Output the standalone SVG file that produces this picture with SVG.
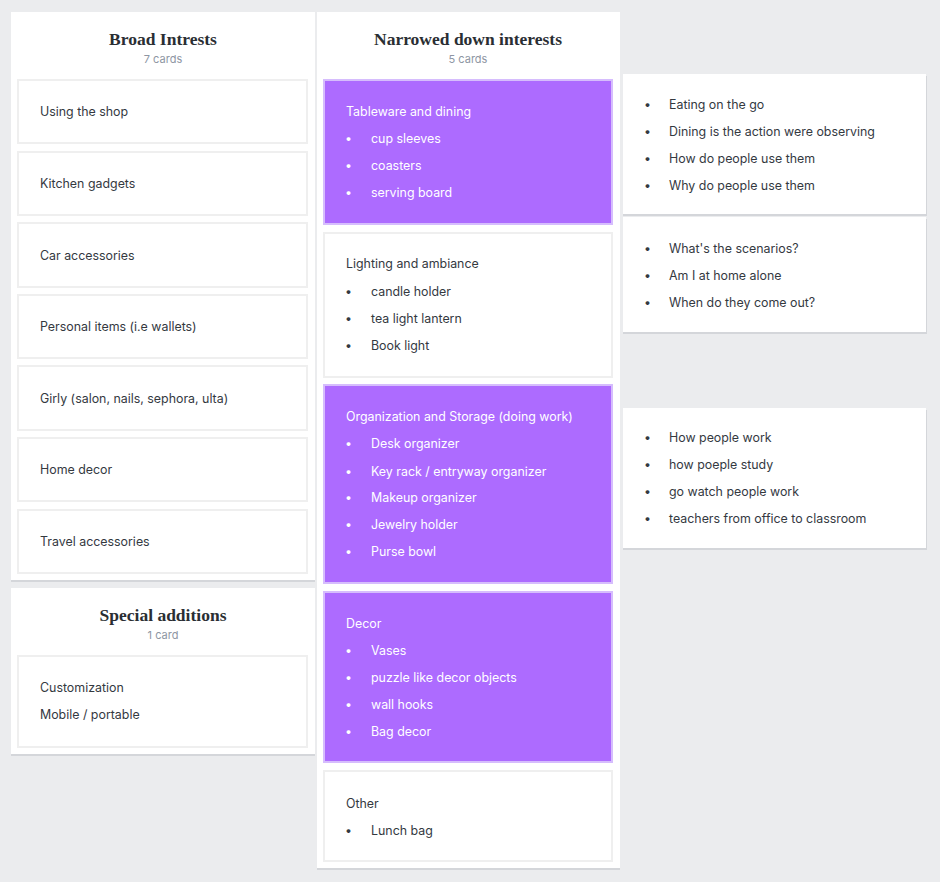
<svg xmlns="http://www.w3.org/2000/svg" width="940" height="882" viewBox="0 0 940 882">
<style>
.col{fill:#ffffff}
.sh{fill:#d4d6da}
.card{fill:#ffffff;stroke:#efefef;stroke-width:2}
.pcard{fill:#ad6bff;stroke:#d6bdfd;stroke-width:2}
.t{font-family:Inter,"Noto Sans","Liberation Sans",sans-serif;font-size:12.4px;fill:#34393f}
.w{fill:#ffffff}
.h{font-family:"Liberation Serif","DejaVu Serif",serif;font-weight:bold;font-size:17.5px;fill:#2a2e33;text-anchor:middle}
.sub{font-family:Inter,"Liberation Sans",sans-serif;font-size:11px;fill:#8e96a3;text-anchor:middle}
</style>
<rect x="0" y="0" width="940" height="882" fill="#ebecee"/>

<g id="col-broad">
<rect class="sh" x="11" y="14" width="304" height="568"/>
<rect class="col" x="11" y="12" width="304" height="568"/>
<text class="h" x="163" y="45">Broad Intrests</text>
<text class="sub" x="163" y="63">7 cards</text>
</g>
<g id="card-shop"><rect class="card" x="18" y="80" width="289" height="63"/><text class="t" x="40" y="116">Using the shop</text></g>
<g id="card-kitchen"><rect class="card" x="18" y="152" width="289" height="63"/><text class="t" x="40" y="188">Kitchen gadgets</text></g>
<g id="card-car"><rect class="card" x="18" y="223" width="289" height="64"/><text class="t" x="40" y="260">Car accessories</text></g>
<g id="card-personal"><rect class="card" x="18" y="295" width="289" height="63"/><text class="t" x="40" y="331">Personal items (i.e wallets)</text></g>
<g id="card-girly"><rect class="card" x="18" y="366" width="289" height="64"/><text class="t" x="40" y="403">Girly (salon, nails, sephora, ulta)</text></g>
<g id="card-home"><rect class="card" x="18" y="438" width="289" height="63"/><text class="t" x="40" y="474">Home decor</text></g>
<g id="card-travel"><rect class="card" x="18" y="510" width="289" height="63"/><text class="t" x="40" y="546">Travel accessories</text></g>

<g id="col-special">
<rect class="sh" x="11" y="590" width="304" height="166"/>
<rect class="col" x="11" y="588" width="304" height="166"/>
<text class="h" x="163" y="621">Special additions</text>
<text class="sub" x="163" y="639">1 card</text>
</g>
<g id="card-custom"><rect class="card" x="18" y="656" width="289" height="91"/><text class="t" x="40" y="692">Customization</text><text class="t" x="40" y="719">Mobile / portable</text></g>

<g id="col-narrow">
<rect class="sh" x="317" y="14" width="303" height="856"/>
<rect class="col" x="317" y="12" width="303" height="856"/>
<text class="h" x="468" y="45">Narrowed down interests</text>
<text class="sub" x="468" y="63">5 cards</text>
</g>
<g id="card-tableware"><rect class="pcard" x="324" y="80" width="288" height="144"/>
<text class="t w" x="346" y="116">Tableware and dining</text>
<text class="t w" x="345" y="143">•</text><text class="t w" x="371" y="143">cup sleeves</text>
<text class="t w" x="345" y="170">•</text><text class="t w" x="371" y="170">coasters</text>
<text class="t w" x="345" y="197">•</text><text class="t w" x="371" y="197">serving board</text>
</g>
<g id="card-lighting"><rect class="card" x="324" y="233" width="288" height="144"/>
<text class="t" x="346" y="268">Lighting and ambiance</text>
<text class="t" x="345" y="296">•</text><text class="t" x="371" y="296">candle holder</text>
<text class="t" x="345" y="323">•</text><text class="t" x="371" y="323">tea light lantern</text>
<text class="t" x="345" y="350">•</text><text class="t" x="371" y="350">Book light</text>
</g>
<g id="card-organization"><rect class="pcard" x="324" y="385" width="288" height="198"/>
<text class="t w" x="346" y="421">Organization and Storage (doing work)</text>
<text class="t w" x="345" y="448">•</text><text class="t w" x="371" y="448">Desk organizer</text>
<text class="t w" x="345" y="476">•</text><text class="t w" x="371" y="476">Key rack / entryway organizer</text>
<text class="t w" x="345" y="502">•</text><text class="t w" x="371" y="502">Makeup organizer</text>
<text class="t w" x="345" y="529">•</text><text class="t w" x="371" y="529">Jewelry holder</text>
<text class="t w" x="345" y="556">•</text><text class="t w" x="371" y="556">Purse bowl</text>
</g>
<g id="card-decor"><rect class="pcard" x="324" y="592" width="288" height="170"/>
<text class="t w" x="346" y="628">Decor</text>
<text class="t w" x="345" y="655">•</text><text class="t w" x="371" y="655">Vases</text>
<text class="t w" x="345" y="682">•</text><text class="t w" x="371" y="682">puzzle like decor objects</text>
<text class="t w" x="345" y="709">•</text><text class="t w" x="371" y="709">wall hooks</text>
<text class="t w" x="345" y="736">•</text><text class="t w" x="371" y="736">Bag decor</text>
</g>
<g id="card-other"><rect class="card" x="324" y="771" width="288" height="90"/>
<text class="t" x="346" y="808">Other</text>
<text class="t" x="345" y="835">•</text><text class="t" x="371" y="835">Lunch bag</text>
</g>

<g id="note-dining">
<rect class="sh" x="623" y="76" width="304" height="140"/>
<rect class="col" x="623" y="74" width="303" height="140"/>
<text class="t" x="644" y="109">•</text><text class="t" x="669" y="109">Eating on the go</text>
<text class="t" x="644" y="136">•</text><text class="t" x="669" y="136">Dining is the action were observing</text>
<text class="t" x="644" y="163">•</text><text class="t" x="669" y="163">How do people use them</text>
<text class="t" x="644" y="190">•</text><text class="t" x="669" y="190">Why do people use them</text>
</g>
<g id="note-scenarios">
<rect class="sh" x="623" y="219" width="304" height="115"/>
<rect class="col" x="623" y="217" width="303" height="115"/>
<text class="t" x="644" y="253">•</text><text class="t" x="669" y="253">What's the scenarios?</text>
<text class="t" x="644" y="280">•</text><text class="t" x="669" y="280">Am I at home alone</text>
<text class="t" x="644" y="307">•</text><text class="t" x="669" y="307">When do they come out?</text>
</g>
<g id="note-work">
<rect class="sh" x="623" y="410" width="304" height="140"/>
<rect class="col" x="623" y="408" width="303" height="140"/>
<text class="t" x="644" y="442">•</text><text class="t" x="669" y="442">How people work</text>
<text class="t" x="644" y="469">•</text><text class="t" x="669" y="469">how poeple study</text>
<text class="t" x="644" y="496">•</text><text class="t" x="669" y="496">go watch people work</text>
<text class="t" x="644" y="523">•</text><text class="t" x="669" y="523">teachers from office to classroom</text>
</g>
<g id="connectors"></g>
</svg>
